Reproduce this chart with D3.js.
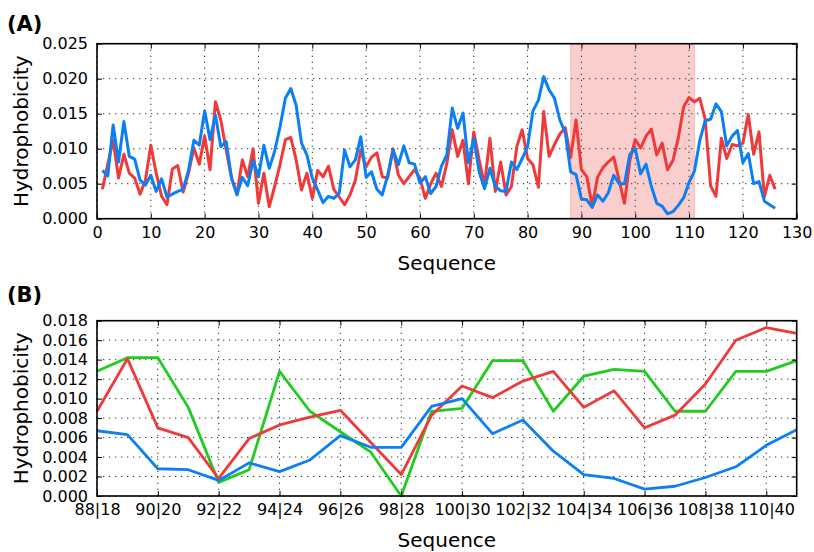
<!DOCTYPE html>
<html>
<head>
<meta charset="utf-8">
<script src="https://cdn.jsdelivr.net/npm/d3@7"></script>
<style>
  body { margin: 0; background: #fff; }
  text { font-family: "DejaVu Sans", sans-serif; }
</style>
</head>
<body>
<script>
// ---- data ----
// panel A: residues 1..126
const redA = [
  0.0042, 0.0078, 0.0112, 0.0058, 0.0092, 0.0065, 0.0058, 0.0035, 0.0055, 0.0105,
  0.0065, 0.0032, 0.0020, 0.0071, 0.0076, 0.0038, 0.0065, 0.0101, 0.0078, 0.0118,
  0.0070, 0.0167, 0.0141, 0.0098, 0.0058, 0.0035, 0.0084, 0.0060, 0.0100, 0.0022,
  0.0065, 0.0017, 0.0046, 0.0077, 0.0113, 0.0116, 0.0084, 0.0041, 0.0065, 0.0029,
  0.0069, 0.0060, 0.0075, 0.0042, 0.0031, 0.0020, 0.0034, 0.0055, 0.0098, 0.0074,
  0.0088, 0.0094, 0.0060, 0.0058, 0.0100, 0.0062, 0.0050, 0.0060, 0.0070, 0.0058,
  0.0029, 0.0050, 0.0065, 0.0046, 0.0079, 0.0127, 0.0089, 0.0112, 0.0050, 0.0124,
  0.0084, 0.0048, 0.0115, 0.0039, 0.0081, 0.0034, 0.0046, 0.0103, 0.0127, 0.0086,
  0.0077, 0.0045, 0.0153, 0.0089, 0.0106, 0.0121, 0.0130, 0.0087, 0.0141, 0.0070,
  0.0060, 0.0018, 0.0059, 0.0073, 0.0081, 0.0088, 0.0055, 0.0022, 0.0083, 0.0113,
  0.0101, 0.0118, 0.0128, 0.0091, 0.0108, 0.0070, 0.0083, 0.0115, 0.0160, 0.0173,
  0.0167, 0.0172, 0.0142, 0.0047, 0.0032, 0.0115, 0.0086, 0.0106, 0.0104, 0.0108,
  0.0149, 0.0092, 0.0124, 0.0031, 0.0062, 0.0042
];
const blueA = [
  0.0069, 0.0061, 0.0134, 0.0081, 0.0139, 0.0089, 0.0085, 0.0055, 0.0048, 0.0062,
  0.0039, 0.0057, 0.0031, 0.0035, 0.0039, 0.0042, 0.0069, 0.0112, 0.0105, 0.0154,
  0.0113, 0.0148, 0.0103, 0.0110, 0.0058, 0.0034, 0.0059, 0.0047, 0.0083, 0.0060,
  0.0105, 0.0072, 0.0096, 0.0131, 0.0172, 0.0186, 0.0162, 0.0108, 0.0091, 0.0058,
  0.0041, 0.0023, 0.0032, 0.0029, 0.0036, 0.0098, 0.0074, 0.0084, 0.0117, 0.0059,
  0.0067, 0.0042, 0.0034, 0.0062, 0.0098, 0.0077, 0.0104, 0.0080, 0.0078, 0.0051,
  0.0060, 0.0036, 0.0046, 0.0075, 0.0091, 0.0158, 0.0129, 0.0151, 0.0080, 0.0115,
  0.0067, 0.0043, 0.0072, 0.0046, 0.0040, 0.0039, 0.0081, 0.0070, 0.0086, 0.0103,
  0.0154, 0.0169, 0.0203, 0.0184, 0.0172, 0.0141, 0.0123, 0.0067, 0.0063, 0.0028,
  0.0027, 0.0016, 0.0034, 0.0025, 0.0037, 0.0062, 0.0050, 0.0050, 0.0092, 0.0100,
  0.0064, 0.0078, 0.0046, 0.0022, 0.0018, 0.0007, 0.0010, 0.0019, 0.0030, 0.0052,
  0.0068, 0.0112, 0.0140, 0.0142, 0.0164, 0.0153, 0.0104, 0.0118, 0.0126, 0.0080,
  0.0093, 0.0050, 0.0053, 0.0025, 0.0020, 0.0015
];
const firstResidue = 1;
const spanA = [88, 111];
const xTicksA = [0, 10, 20, 30, 40, 50, 60, 70, 80, 90, 100, 110, 120, 130];
const yTicksA = [0, 0.005, 0.010, 0.015, 0.020, 0.025];

// panel B: residues 88..111 (paired with 18..41)
const residuesB = [88, 89, 90, 91, 92, 93, 94, 95, 96, 97, 98, 99,
                   100, 101, 102, 103, 104, 105, 106, 107, 108, 109, 110, 111];
const greenB = [
  0.0128, 0.0142, 0.0142, 0.0091, 0.0014, 0.0027, 0.0128, 0.0087, 0.0066, 0.0045,
  0.0000, 0.0087, 0.0090, 0.0139, 0.0139, 0.0087, 0.0123, 0.0130, 0.0128, 0.0087,
  0.0087, 0.0128, 0.0128, 0.0139
];
const xTicksB = [88, 90, 92, 94, 96, 98, 100, 102, 104, 106, 108, 110];
const xTickLabelsB = ["88|18", "90|20", "92|22", "94|24", "96|26", "98|28",
                      "100|30", "102|32", "104|34", "106|36", "108|38", "110|40"];
const yTicksB = [0, 0.002, 0.004, 0.006, 0.008, 0.010, 0.012, 0.014, 0.016, 0.018];

const RED = '#f03a3a', BLUE = '#0a80f4', GREEN = '#20cc20';

let width = 814, height = 552;

let svg = d3.select('body')
  .append('svg')
    .attr('width', width)
    .attr('height', height);

function drawPanel(p) {
  let x = d3.scaleLinear().domain(p.xDomain).range([p.left, p.right]);
  let y = d3.scaleLinear().domain(p.yDomain).range([p.bottom, p.top]);
  let g = svg.append('g');

  // shaded span
  if (p.span) {
    g.append('rect')
      .attr('x', x(p.span[0]))
      .attr('y', p.top)
      .attr('width', x(p.span[1]) - x(p.span[0]))
      .attr('height', p.bottom - p.top)
      .attr('fill', RED)
      .attr('fill-opacity', 0.25)
      .attr('stroke', RED)
      .attr('stroke-opacity', 0.25);
  }

  // dotted grid
  let grid = g.append('g')
    .attr('stroke', '#333')
    .attr('stroke-width', 1)
    .attr('stroke-dasharray', '1.3,4.7');
  grid.selectAll('.vx').data(p.xTicks).enter().append('line')
    .attr('x1', d => x(d)).attr('x2', d => x(d))
    .attr('y1', p.top).attr('y2', p.bottom);
  grid.selectAll('.hy').data(p.yTicks).enter().append('line')
    .attr('x1', p.left).attr('x2', p.right)
    .attr('y1', d => y(d)).attr('y2', d => y(d));

  // series
  p.series.forEach(s => {
    let line = d3.line()
      .x((d, i) => x(s.xs[i]))
      .y(d => y(d));
    g.append('path')
      .datum(s.values)
      .attr('d', line)
      .attr('fill', 'none')
      .attr('stroke', s.color)
      .attr('stroke-width', p.lineWidth)
      .attr('stroke-linejoin', 'round');
  });

  // axes, ticks pointing inwards on all four sides
  g.append('g')
    .attr('transform', `translate(0,${p.bottom})`)
    .call(d3.axisBottom(x).tickValues(p.xTicks).tickFormat(p.xFormat)
      .tickSizeInner(-5).tickSizeOuter(0).tickPadding(p.xPad));
  g.append('g')
    .attr('transform', `translate(0,${p.top})`)
    .call(d3.axisTop(x).tickValues(p.xTicks).tickFormat('')
      .tickSizeInner(-5).tickSizeOuter(0));
  g.append('g')
    .attr('transform', `translate(${p.left},0)`)
    .call(d3.axisLeft(y).tickValues(p.yTicks).tickFormat(d3.format('.3f'))
      .tickSizeInner(-5).tickSizeOuter(0).tickPadding(9));
  g.append('g')
    .attr('transform', `translate(${p.right},0)`)
    .call(d3.axisRight(y).tickValues(p.yTicks).tickFormat('')
      .tickSizeInner(-5).tickSizeOuter(0));

  g.selectAll('.domain').remove();
  g.selectAll('.tick line').attr('stroke', '#000').attr('stroke-width', 1);
  g.selectAll('.tick text')
    .attr('fill', '#000')
    .style('font-size', '16px')
    .style('font-family', '"DejaVu Sans", sans-serif');

  // frame
  g.append('rect')
    .attr('x', p.left).attr('y', p.top)
    .attr('width', p.right - p.left).attr('height', p.bottom - p.top)
    .attr('fill', 'none')
    .attr('stroke', '#000')
    .attr('stroke-width', 1.6);

  // labels
  g.append('text')
    .attr('x', (p.left + p.right) / 2)
    .attr('y', p.xLabelY)
    .attr('text-anchor', 'middle')
    .style('font-size', '20px')
    .text('Sequence');
  g.append('text')
    .attr('transform', `translate(27.5,${(p.top + p.bottom) / 2}) rotate(-90)`)
    .attr('text-anchor', 'middle')
    .style('font-size', '20px')
    .text('Hydrophobicity');
  g.append('text')
    .attr('x', 7)
    .attr('y', p.tagY)
    .style('font-size', '21px')
    .style('font-weight', 'bold')
    .text(p.tag);
}

let residuesA = redA.map((d, i) => firstResidue + i);

drawPanel({
  tag: '(A)', tagY: 31,
  left: 97, right: 796.7, top: 43.7, bottom: 218.7,
  xDomain: [0, 130], yDomain: [0, 0.025],
  xTicks: xTicksA, yTicks: yTicksA, xFormat: d3.format('d'),
  xPad: 8, xLabelY: 270,
  span: spanA, lineWidth: 3,
  series: [
    { values: redA, xs: residuesA, color: RED },
    { values: blueA, xs: residuesA, color: BLUE }
  ]
});

// panel B reuses the shaded window of panel A
let i0 = residuesB[0] - firstResidue;
let redB = redA.slice(i0, i0 + residuesB.length);
let blueB = blueA.slice(i0, i0 + residuesB.length);

drawPanel({
  tag: '(B)', tagY: 302,
  left: 97, right: 796.7, top: 320.7, bottom: 496,
  xDomain: [88, 111], yDomain: [0, 0.018],
  xTicks: xTicksB, yTicks: yTicksB,
  xFormat: (d, i) => xTickLabelsB[i],
  xPad: 7.5, xLabelY: 547,
  span: null, lineWidth: 2.8,
  series: [
    { values: greenB, xs: residuesB, color: GREEN },
    { values: redB, xs: residuesB, color: RED },
    { values: blueB, xs: residuesB, color: BLUE }
  ]
});
</script>
</body>
</html>
